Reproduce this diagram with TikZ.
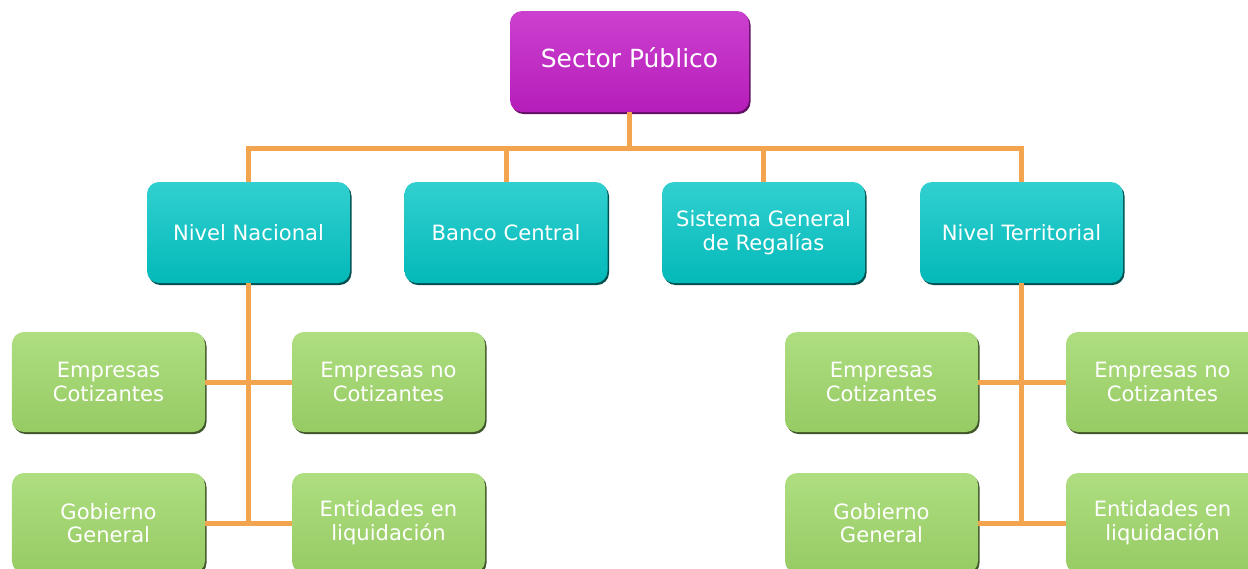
\documentclass[tikz,border=0pt]{standalone}
\usepackage{fontspec}
\setmainfont{DejaVu Sans}
\usetikzlibrary{positioning,shadows}
\definecolor{mypurple}{RGB}{194,31,198}
\definecolor{myteal}{RGB}{4,197,197}
\definecolor{mygreen}{RGB}{160,216,106}
\definecolor{myorange}{RGB}{242,165,78}

\begin{document}
\begin{tikzpicture}[
  box/.style={rectangle,rounded corners=0.24cm,align=center,text=white,
    font=\fontsize{12}{13.5}\selectfont,inner sep=0pt},
  topnode/.style={box,minimum width=4.78cm,minimum height=2.02cm,
    font=\fontsize{14.2}{16}\selectfont,
    top color=mypurple!85!white,middle color=mypurple,bottom color=mypurple!94!black,
    general shadow={fill=mypurple!50!black,shadow xshift=0.03cm,shadow yshift=-0.04cm}},
  midnode/.style={box,minimum width=4.06cm,minimum height=2.02cm,
    top color=myteal!82!white,middle color=myteal,bottom color=myteal!94!black,
    general shadow={fill=myteal!40!black,shadow xshift=0.03cm,shadow yshift=-0.04cm}},
  lownode/.style={box,minimum width=3.86cm,minimum height=2cm,
    top color=mygreen!85!white,middle color=mygreen,bottom color=mygreen!94!black,
    general shadow={fill=mygreen!40!black,shadow xshift=0.03cm,shadow yshift=-0.04cm}},
  bus/.style={draw=myorange,line width=0.1cm}]

  \useasboundingbox (0,0) rectangle (24.96,-11.36);

  \node[topnode] (sector) at (12.59,-1.23) {Sector Público\strut};

  % second row
  \node[midnode] (nac) at (4.97,-4.65) {Nivel Nacional};
  \node[midnode] (ban) at (10.12,-4.65) {Banco Central};
  \node[midnode] (sis) at (15.27,-4.65) {Sistema General\\de Regalías};
  \node[midnode] (ter) at (20.43,-4.65) {Nivel Territorial};

  % left branch
  \node[lownode] (empl) at (2.17,-7.64) {Empresas\\Cotizantes};
  \node[lownode] (empnol) at (7.77,-7.64) {Empresas no\\Cotizantes};
  \node[lownode] (gobl) at (2.17,-10.46) {Gobierno\\General};
  \node[lownode] (entl) at (7.77,-10.46) {Entidades en\\liquidación};

  % right branch
  \node[lownode] (empr) at (17.63,-7.64) {Empresas\\Cotizantes};
  \node[lownode] (empnor) at (23.25,-7.64) {Empresas no\\Cotizantes};
  \node[lownode] (gobr) at (17.63,-10.46) {Gobierno\\General};
  \node[lownode] (entr) at (23.25,-10.46) {Entidades en\\liquidación};

  \coordinate (hub) at (12.59,-2.96);

  \draw[bus] (sector.south) -- (hub);
  \draw[bus] (nac.north) |- (hub) -| (ter.north);
  \draw[bus] (ban.north) -- (ban.north |- hub);
  \draw[bus] (sis.north) -- (sis.north |- hub);

  \draw[bus] (nac.south) -- (nac.south |- gobl.east);
  \draw[bus] (empl.east) -- (empnol.west);
  \draw[bus] (gobl.east) -- (entl.west);

  \draw[bus] (ter.south) -- (ter.south |- gobr.east);
  \draw[bus] (empr.east) -- (empnor.west);
  \draw[bus] (gobr.east) -- (entr.west);

\end{tikzpicture}
\end{document}
